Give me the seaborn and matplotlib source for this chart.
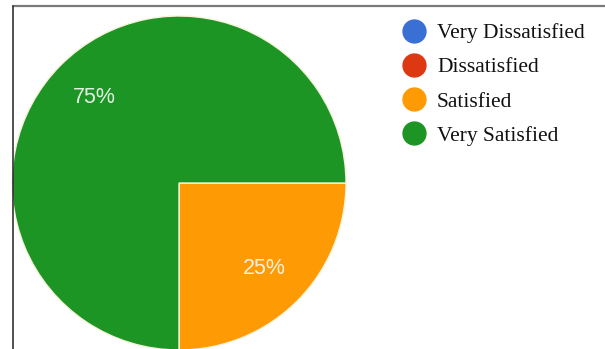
import matplotlib
matplotlib.use("Agg")
import matplotlib.pyplot as plt
from matplotlib.lines import Line2D
import numpy as np
import seaborn as sns

categories = ["Very Dissatisfied", "Dissatisfied", "Satisfied", "Very Satisfied"]
values = [0, 0, 25, 75]
colors = ["#3a6fd4", "#dc3912", "#fe9a03", "#1d9524"]

sns.set_theme(style="white")
palette = sns.color_palette(colors)

W, H = 605, 349
fig = plt.figure(figsize=(W / 100, H / 100), dpi=100)
fig.patch.set_facecolor("white")

# pie axes: center (179,183) px, radius 167 px
cx, cy, r = 179, 183, 167
ax = fig.add_axes([(cx - r) / W, (H - (cy + r)) / H, 2 * r / W, 2 * r / H])

nz = [(c, v, col) for c, v, col in zip(categories, values, palette) if v > 0]
vals = [v for _, v, _ in nz]
cols = [col for _, _, col in nz]
wedges, _ = ax.pie(vals, colors=cols, startangle=0, counterclock=False,
                   radius=1.0, wedgeprops=dict(edgecolor="#f6f3dc", linewidth=1.0))
ax.set_xlim(-1, 1)
ax.set_ylim(-1, 1)
ax.set_aspect("equal")
ax.axis("off")

# percentage labels
total = sum(vals)
label_angles = {"Satisfied": -45, "Very Satisfied": 135}
for (cat, v, col) in nz:
    ang = np.deg2rad(label_angles[cat])
    d = 0.72
    ax.text(d * np.cos(ang), d * np.sin(ang), f"{v / total * 100:.0f}%",
            ha="center", va="center", fontsize=15.5, color="white", alpha=0.88,
            family=["Liberation Sans", "DejaVu Sans"])

# legend
handles = [Line2D([0], [0], marker="o", linestyle="none", markersize=16.5,
                  markerfacecolor=c, markeredgecolor=c) for c in palette]
leg = fig.legend(handles, categories, loc="upper left",
                 bbox_to_anchor=(403 / W, 1 - 23 / H), frameon=False,
                 borderpad=0, borderaxespad=0, handlelength=1.03,
                 handletextpad=0.55, labelspacing=0.66,
                 prop={"family": ["Liberation Serif", "DejaVu Serif"], "size": 15.5})
for t in leg.get_texts():
    t.set_color("#111111")

# frame lines of the screenshot
fig.add_artist(Line2D([13 / W, 1], [1 - 6 / H, 1 - 6 / H], color="#7a7a7a", lw=1.6,
                      transform=fig.transFigure))
fig.add_artist(Line2D([13 / W, 13 / W], [0, 1 - 6 / H], color="#333333", lw=1.2,
                      transform=fig.transFigure))

fig.savefig("out.png", dpi=100, facecolor="white")
